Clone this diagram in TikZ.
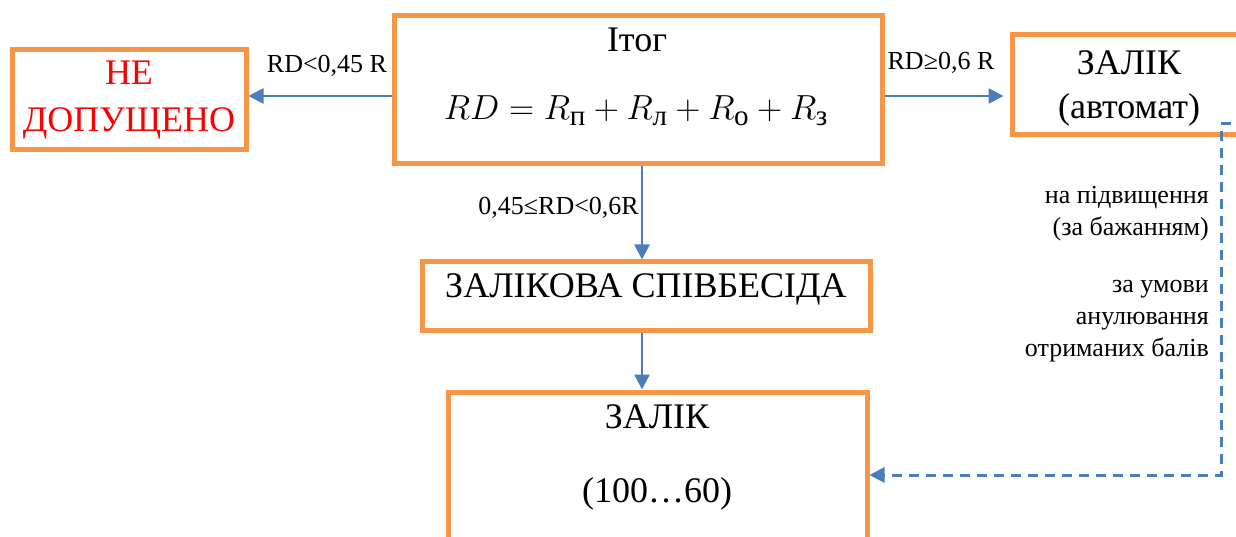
\documentclass[tikz,border=0pt]{standalone}
\usepackage{amsmath}
\usepackage{fontspec}
\setmainfont{Liberation Serif}
\usetikzlibrary{arrows.meta}
\definecolor{boxorange}{HTML}{F79646}
\definecolor{arrowblue}{HTML}{4A7EBB}
\tikzset{
  blok/.style={draw=boxorange,line width=5pt,inner sep=0pt},
  arr/.style={draw=arrowblue,line width=2.5pt,-{Triangle[length=15pt,width=15pt]}},
  big/.style={font=\fontsize{36}{44}\selectfont,align=center,inner sep=0pt},
  lbl/.style={font=\fontsize{26}{31}\selectfont,inner sep=0pt}
}

\begin{document}
\begin{tikzpicture}[x=1pt,y=-1pt]
  \useasboundingbox (0,0) rectangle (1236,537);
  \clip (0,0) rectangle (1236,537);
  % boxes
  \node[blok,minimum width=234pt,minimum height=100pt,big,text=red,font=\fontsize{36}{47}\selectfont](nedop)at(129,100){НЕ\\ДОПУЩЕНО};
  \node[blok,minimum width=488pt,minimum height=148pt](itog)at(638,90){};
  \node[blok,minimum width=250pt,minimum height=100pt](auto)at(1137,85){};
  \node[blok,minimum width=448pt,minimum height=68pt](spiv)at(646,296){};
  \node[blok,minimum width=419pt,minimum height=188pt](zalik)at(657.5,486){};
  % texts in boxes
  \node[big,anchor=base](itogtitle)at(637,52){Ітог};
  \node[big,anchor=base,font=\fontsize{24.88}{30}\selectfont](itogformula)at(636,120)
       {\scalebox{1.4}{$RD = R_{\text{п}} + R_{\text{л}} + R_{\text{о}} + R_{\text{з}}$}};
  \node[big,anchor=base](autotitle)at(1129,75){ЗАЛІК};
  \node[big,anchor=base](autosub)at(1129,119){(автомат)};
  \node[big,anchor=base](spivtext)at(646,298){ЗАЛІКОВА СПІВБЕСІДА};
  \node[big,anchor=base](zaliktitle)at(657,428){ЗАЛІК};
  \node[big,anchor=base](zalikrange)at(657,502){(100…60)};
  % arrow labels
  \node[lbl,anchor=base](lblno)at(327,73){RD<0,45 R};
  \node[lbl,anchor=base](lblauto)at(941,70){RD≥0,6 R};
  \node[lbl,anchor=base east](lblspiv)at(639,215){0,45≤RD<0,6R};
  \node[lbl,anchor=base east,align=right,font=\fontsize{26}{32}\selectfont](lblup)at(1209,236){на підвищення\\(за бажанням)};
  \node[lbl,anchor=base east,align=right,font=\fontsize{26}{32}\selectfont](lblcond)at(1209,356){за умови\\анулювання\\отриманих балів};
  % arrows
  \coordinate (vx) at (642,0);
  \coordinate (dstart) at (1231,124);
  \coordinate (dturn) at (1221,475);
  \draw[arr]([yshift=-6pt]itog.west)--([yshift=4pt]nedop.east);
  \draw[arr,shorten >=6pt]([yshift=-6pt]itog.east)--([yshift=-11pt]auto.west);
  \draw[arr](itog.south -| vx)--(spiv.north -| vx);
  \draw[arr](spiv.south -| vx)--(zalik.north -| vx);
  \draw[arr,line width=3pt,dash pattern=on 10pt off 7pt](dstart)-|(dturn)--(dturn -| zalik.east);
\end{tikzpicture}
\end{document}
